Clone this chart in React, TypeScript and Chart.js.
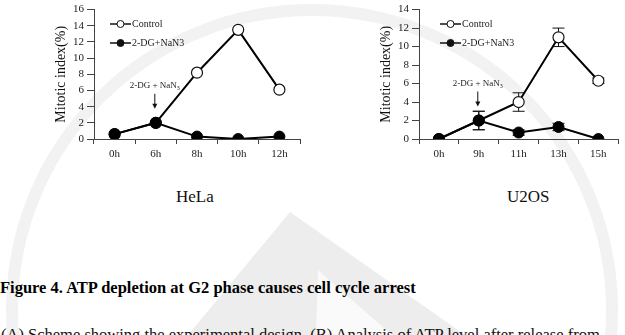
import React, { useEffect, useRef } from "react";
import { Chart, registerables } from "chart.js";

Chart.register(...registerables);

// HeLa time course (mitotic index, %)
const helaLabels = ["0h", "6h", "8h", "10h", "12h"];
const helaControl = [0.6, 2.0, 8.2, 13.5, 6.1];
const helaTreated = [0.6, 2.0, 0.3, 0.0, 0.3];

// U2OS time course (mitotic index, %) with error bars
const u2osLabels = ["0h", "9h", "11h", "13h", "15h"];
const u2osControl = [0.0, 2.0, 4.0, 11.0, 6.3];
const u2osControlErr = [0, 1.0, 1.0, 1.0, 0.3];
const u2osTreated = [0.0, 2.0, 0.7, 1.3, 0.0];
const u2osTreatedErr = [0, 1.0, 0.3, 0.4, 0];

const seriesNames = ["Control", "2-DG+NaN3"];
const yTitle = "Mitotic index(%)";

const SERIF = "'Liberation Serif', 'Times New Roman', serif";

type PanelProps = {
  labels: string[];
  control: number[];
  treated: number[];
  controlErr?: number[];
  treatedErr?: number[];
  yMax: number;
  axisWidth: number;
  padRight: number;
  legendOffset: number;
  width: number;
  left: number;
};

function Panel(p: PanelProps) {
  const ref = useRef<HTMLCanvasElement | null>(null);

  useEffect(() => {
    const canvas = ref.current;
    if (!canvas) return;

    const errorBars = {
      id: "errorBars",
      beforeDatasetsDraw(chart: any) {
        const ctx = chart.ctx;
        const y = chart.scales.y;
        const errs = [p.controlErr, p.treatedErr];
        ctx.save();
        ctx.strokeStyle = "#111";
        ctx.lineWidth = 1;
        chart.data.datasets.forEach((ds: any, di: number) => {
          const err = errs[ds.seriesIndex];
          if (!err) return;
          const meta = chart.getDatasetMeta(di);
          meta.data.forEach((pt: any, i: number) => {
            const e = err[i];
            if (!e) return;
            const v = ds.data[i];
            const yt = y.getPixelForValue(v + e);
            const yb = y.getPixelForValue(v - e);
            ctx.beginPath();
            ctx.moveTo(pt.x, yt);
            ctx.lineTo(pt.x, yb);
            ctx.moveTo(pt.x - 6, yt);
            ctx.lineTo(pt.x + 6, yt);
            ctx.moveTo(pt.x - 6, yb);
            ctx.lineTo(pt.x + 6, yb);
            ctx.stroke();
          });
        });
        ctx.restore();
      },
    };

    const overlay = {
      id: "overlay",
      afterDraw(chart: any) {
        const ctx = chart.ctx;
        const area = chart.chartArea;
        ctx.save();

        // rotated y-axis title
        ctx.fillStyle = "#111";
        ctx.font = `14px ${SERIF}`;
        ctx.textAlign = "center";
        ctx.textBaseline = "middle";
        ctx.translate(area.left - 33, (area.top + area.bottom) / 2);
        ctx.rotate(-Math.PI / 2);
        ctx.fillText(yTitle, 0, 0);
        ctx.setTransform(1, 0, 0, 1, 0, 0);

        // legend
        const lx = area.left + p.legendOffset;
        const rows = [24, 43];
        rows.forEach((ly, i) => {
          ctx.strokeStyle = "#111";
          ctx.lineWidth = 1.5;
          ctx.beginPath();
          ctx.moveTo(lx, ly);
          ctx.lineTo(lx + 21, ly);
          ctx.stroke();
          ctx.beginPath();
          ctx.arc(lx + 10.5, ly, 3.5, 0, Math.PI * 2);
          ctx.fillStyle = i === 0 ? "#fff" : "#111";
          ctx.fill();
          ctx.lineWidth = 1;
          ctx.stroke();
          ctx.fillStyle = "#222";
          ctx.font = `10px ${SERIF}`;
          ctx.textAlign = "left";
          ctx.textBaseline = "middle";
          ctx.fillText(seriesNames[i], lx + 22, ly + 0.5);
        });

        // treatment annotation with arrow above the second time point
        const pt = chart.getDatasetMeta(0).data[1];
        const ax = pt.x - 1;
        const ay = pt.y;
        ctx.fillStyle = "#222";
        ctx.font = `9px ${SERIF}`;
        ctx.textBaseline = "middle";
        const main = "2-DG + NaN";
        const w1 = ctx.measureText(main).width;
        ctx.font = `6px ${SERIF}`;
        const w2 = ctx.measureText("3").width;
        const tx = ax - (w1 + w2) / 2;
        const ty = ay - 37;
        ctx.font = `9px ${SERIF}`;
        ctx.textAlign = "left";
        ctx.fillText(main, tx, ty);
        ctx.font = `6px ${SERIF}`;
        ctx.fillText("3", tx + w1, ty + 3);
        ctx.strokeStyle = "#111";
        ctx.lineWidth = 1;
        ctx.beginPath();
        ctx.moveTo(ax, ay - 29);
        ctx.lineTo(ax, ay - 18);
        ctx.stroke();
        ctx.fillStyle = "#111";
        ctx.beginPath();
        ctx.moveTo(ax - 2.5, ay - 19);
        ctx.lineTo(ax + 2.5, ay - 19);
        ctx.lineTo(ax, ay - 14);
        ctx.closePath();
        ctx.fill();

        ctx.restore();
      },
    };

    const chart = new Chart(canvas, {
      type: "line",
      data: {
        labels: p.labels,
        datasets: [
          {
            label: seriesNames[1],
            data: p.treated,
            seriesIndex: 1,
            borderColor: "#000",
            borderWidth: 2,
            backgroundColor: "#000",
            pointBackgroundColor: "#000",
            pointBorderColor: "#000",
            pointRadius: 5.5,
            pointBorderWidth: 1,
            tension: 0,
          } as any,
          {
            label: seriesNames[0],
            data: p.control,
            seriesIndex: 0,
            borderColor: "#000",
            borderWidth: 2,
            backgroundColor: "#fff",
            pointBackgroundColor: "#fff",
            pointBorderColor: "#111",
            pointRadius: 5.5,
            pointBorderWidth: 1.2,
            tension: 0,
          } as any,
        ],
      },
      options: {
        responsive: false,
        animation: false,
        events: [],
        layout: { padding: { top: 7, right: p.padRight, left: 0, bottom: 0 } },
        plugins: {
          legend: { display: false },
          tooltip: { enabled: false },
          title: { display: false },
        },
        scales: {
          x: {
            type: "category",
            offset: true,
            grid: {
              offset: true,
              drawOnChartArea: false,
              tickLength: 5,
              color: "#444",
            },
            border: { color: "#444", width: 1 },
            ticks: {
              color: "#222",
              font: { family: SERIF, size: 11 },
              padding: 4,
              maxRotation: 0,
              autoSkip: false,
            },
            afterFit(scale: any) {
              scale.height = 31;
            },
          },
          y: {
            min: 0,
            max: p.yMax,
            grid: {
              drawOnChartArea: false,
              tickLength: 7,
              color: "#444",
            },
            border: { color: "#444", width: 1 },
            ticks: {
              stepSize: 2,
              autoSkip: false,
              color: "#222",
              font: { family: SERIF, size: 11 },
              padding: 3,
            },
            afterFit(scale: any) {
              scale.width = p.axisWidth;
            },
          },
        },
      },
      plugins: [errorBars, overlay],
    });

    return () => chart.destroy();
  }, []);

  return (
    <canvas
      ref={ref}
      width={p.width}
      height={170}
      style={{ position: "absolute", left: p.left, top: 0, width: p.width, height: 170 }}
    />
  );
}

// faint page watermark behind the figure
function Watermark() {
  return (
    <svg
      width={625}
      height={335}
      style={{ position: "absolute", left: 0, top: 0 }}
    >
      <polygon points="290,212 188,335 465,335" fill="#ededed" />
      <polygon points="318,270 316,335 392,335" fill="#fafafa" />
      <circle cx={312} cy={310} r={300} fill="none" stroke="#f2f2f2" strokeWidth={12} />
    </svg>
  );
}

const textBase: React.CSSProperties = {
  position: "absolute",
  fontFamily: SERIF,
  color: "#111",
  whiteSpace: "nowrap",
  margin: 0,
};

export default function App() {
  return (
    <div
      style={{
        position: "fixed",
        left: 0,
        top: 0,
        width: 625,
        height: 335,
        overflow: "hidden",
        background: "#fff",
      }}
    >
      <Watermark />
      <Panel
        labels={helaLabels}
        control={helaControl}
        treated={helaTreated}
        yMax={16}
        axisWidth={94}
        padRight={12}
        legendOffset={16}
        width={312}
        left={0}
      />
      <Panel
        labels={u2osLabels}
        control={u2osControl}
        treated={u2osTreated}
        controlErr={u2osControlErr}
        treatedErr={u2osTreatedErr}
        yMax={14}
        axisWidth={107}
        padRight={1}
        legendOffset={21}
        width={313}
        left={312}
      />
      <div style={{ ...textBase, left: 176, top: 188, fontSize: 17, lineHeight: "17px" }}>HeLa</div>
      <div style={{ ...textBase, left: 507, top: 188, fontSize: 17, lineHeight: "17px" }}>U2OS</div>
      <div
        style={{
          ...textBase,
          left: 0,
          top: 280,
          fontSize: 16.5,
          lineHeight: "16px",
          fontWeight: "bold",
          color: "#000",
        }}
      >
        Figure 4. ATP depletion at G2 phase causes cell cycle arrest
      </div>
      <div style={{ ...textBase, left: 1, top: 327, fontSize: 16.5, lineHeight: "16px" }}>
        (A) Scheme showing the experimental design. (B) Analysis of ATP level after release from
      </div>
    </div>
  );
}
